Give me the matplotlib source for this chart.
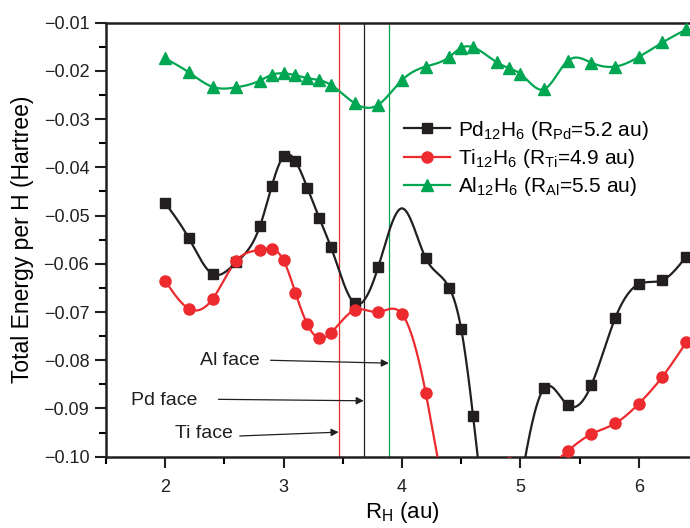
import numpy as np
import matplotlib
matplotlib.use("Agg")
import matplotlib.pyplot as plt

plt.rcParams['font.family'] = ['Liberation Sans', 'DejaVu Sans']
plt.rcParams['mathtext.fontset'] = 'custom'
plt.rcParams['mathtext.rm'] = 'Liberation Sans'
plt.rcParams['mathtext.it'] = 'Liberation Sans'

# ---- data ----
pd_x = [2.0, 2.2, 2.4, 2.6, 2.8, 2.9, 3.0, 3.1, 3.2, 3.3, 3.4, 3.6, 3.8, 4.0,
        4.2, 4.4, 4.5, 4.6, 4.8, 5.0, 5.2, 5.4, 5.6, 5.8, 6.0, 6.2, 6.4]
pd_y = [-0.0474, -0.0547, -0.0621, -0.0597, -0.0522, -0.0439, -0.0377, -0.0387,
        -0.0442, -0.0504, -0.0565, -0.0682, -0.0606, -0.0485, -0.0588, -0.0650,
        -0.0735, -0.0915, -0.1250, -0.1060, -0.0858, -0.0893, -0.0851, -0.0713,
        -0.0642, -0.0634, -0.0585]
pd_marker_skip = [4.0]

ti_x = [2.0, 2.2, 2.4, 2.6, 2.8, 2.9, 3.0, 3.1, 3.2, 3.3, 3.4, 3.6, 3.8, 4.0,
        4.2, 4.4, 4.6, 4.9, 5.2, 5.4, 5.6, 5.8, 6.0, 6.2, 6.4]
ti_y = [-0.0635, -0.0693, -0.0673, -0.0594, -0.0571, -0.0569, -0.0593, -0.0660,
        -0.0725, -0.0754, -0.0743, -0.0696, -0.0700, -0.0704, -0.0867, -0.1100,
        -0.1080, -0.1012, -0.1022, -0.0988, -0.0953, -0.0931, -0.0890, -0.0834,
        -0.0763]

al_x = [2.0, 2.2, 2.4, 2.6, 2.8, 2.9, 3.0, 3.1, 3.2, 3.3, 3.4, 3.6, 3.8, 4.0,
        4.2, 4.4, 4.5, 4.6, 4.8, 4.9, 5.0, 5.2, 5.4, 5.6, 5.8, 6.0, 6.2, 6.4]
al_y = [-0.0174, -0.0203, -0.0233, -0.0234, -0.0220, -0.0208, -0.0205, -0.0209,
        -0.0215, -0.0219, -0.0229, -0.0267, -0.0270, -0.0219, -0.0191, -0.0171,
        -0.0152, -0.0151, -0.0182, -0.0194, -0.0206, -0.0238, -0.0179, -0.0183,
        -0.0191, -0.0171, -0.0141, -0.0114]

labels = [r'Pd$_{12}$H$_{6}$ (R$_{\rm Pd}$=5.2 au)',
          r'Ti$_{12}$H$_{6}$ (R$_{\rm Ti}$=4.9 au)',
          r'Al$_{12}$H$_{6}$ (R$_{\rm Al}$=5.5 au)']

face_R = [4.9, 5.2, 5.5]          # Ti, Pd, Al cluster radii
face_names = ['Ti face', 'Pd face', 'Al face']

c_black = '#231f20'
c_red = '#ed2a2e'
c_green = '#00a651'


def natural_spline(x, y, n=40):
    x = np.asarray(x, float)
    y = np.asarray(y, float)
    m = len(x)
    h = np.diff(x)
    A = np.zeros((m, m))
    b = np.zeros(m)
    A[0, 0] = 1
    A[-1, -1] = 1
    for i in range(1, m - 1):
        A[i, i - 1] = h[i - 1]
        A[i, i] = 2 * (h[i - 1] + h[i])
        A[i, i + 1] = h[i]
        b[i] = 6 * ((y[i + 1] - y[i]) / h[i] - (y[i] - y[i - 1]) / h[i - 1])
    M = np.linalg.solve(A, b)
    xs, ys = [], []
    for i in range(m - 1):
        t = np.linspace(x[i], x[i + 1], n, endpoint=False)
        a = x[i + 1] - t
        c = t - x[i]
        s = (M[i] * a ** 3 + M[i + 1] * c ** 3) / (6 * h[i]) \
            + (y[i] / h[i] - M[i] * h[i] / 6) * a \
            + (y[i + 1] / h[i] - M[i + 1] * h[i] / 6) * c
        xs.append(t)
        ys.append(s)
    xs.append([x[-1]])
    ys.append([y[-1]])
    return np.concatenate(xs), np.concatenate(ys)


fig = plt.figure(figsize=(6.9, 5.28), dpi=100)
ax = fig.add_axes([0.1536, 0.135, 0.858, 0.822])

series = [(pd_x, pd_y, c_black, 's', 7.5, pd_marker_skip),
          (ti_x, ti_y, c_red, 'o', 8, []),
          (al_x, al_y, c_green, '^', 9, [])]
handles = []
for (x, y, col, mk, ms, skip), lab in zip(series, labels):
    sx, sy = natural_spline(x, y)
    ax.plot(sx, sy, color=col, lw=1.6, zorder=3)
    mx = [a for a in x if a not in skip]
    my = [b for a, b in zip(x, y) if a not in skip]
    ax.plot(mx, my, ls='none', marker=mk, ms=ms, color=col, mec=col, zorder=4)
    h, = ax.plot([], [], color=col, lw=1.6, marker=mk, ms=ms, mec=col)
    handles.append(h)

line_cols = [c_red, c_black, c_green]
for R, col in zip(face_R, line_cols):
    ax.axvline(R / np.sqrt(2), color=col, lw=0.9, zorder=2)

# annotations: (text x, text y, tail x, tail y, head y)
ann_text_x = [2.575, 2.27, 2.80]
ann_text_y = [-0.0951, -0.0883, -0.0800]
ann_tail_x = [2.63, 2.45, 2.89]
ann_tail_y = [-0.0957, -0.0881, -0.0800]
ann_head_y = [-0.0949, -0.0884, -0.0806]
for i in range(3):
    ax.text(ann_text_x[i], ann_text_y[i], face_names[i], fontsize=14,
            ha='right', va='center', color='#231f20')
    ax.annotate('', xy=(face_R[i] / np.sqrt(2), ann_head_y[i]),
                xytext=(ann_tail_x[i], ann_tail_y[i]),
                arrowprops=dict(arrowstyle='-|>', color='#231f20', lw=0.9,
                                mutation_scale=11, shrinkA=0, shrinkB=0))

ax.set_xlim(1.5, 6.5)
ax.set_ylim(-0.10, -0.01)
ax.set_xticks([2, 3, 4, 5, 6])
ax.set_xticks(np.arange(1.5, 6.51, 0.5), minor=True)
ax.set_yticks(np.arange(-0.10, -0.0099, 0.01))
ax.set_yticks(np.arange(-0.10, -0.0099, 0.005), minor=True)
ax.yaxis.set_major_formatter(matplotlib.ticker.FuncFormatter(
    lambda v, p: '\u2212%.2f' % abs(v)))
ax.tick_params(which='major', direction='out', length=8, width=1.5,
               labelsize=13, colors='#231f20')
ax.tick_params(which='minor', direction='out', length=5, width=1.5)
ax.tick_params(axis='x', pad=8)
ax.tick_params(axis='y', pad=4)
for s in ax.spines.values():
    s.set_linewidth(1.8)
    s.set_color('#231f20')

ax.set_xlabel(r'R$_{\rm H}$ (au)', fontsize=16, labelpad=3)
ax.set_ylabel('Total Energy per H (Hartree)', fontsize=16.5, labelpad=7)

leg = ax.legend(handles, labels, loc='upper left',
                bbox_to_anchor=(0.49, 0.798), frameon=False, fontsize=15,
                handlelength=2.2, handletextpad=0.35, labelspacing=0.25,
                borderaxespad=0)

fig.savefig('out.png', dpi=100)
